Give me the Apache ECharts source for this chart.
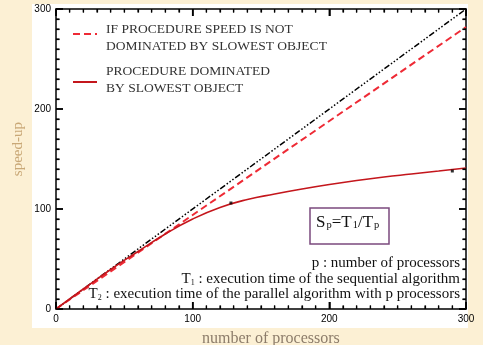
<!DOCTYPE html>
<html lang="en">
<head>
    <meta charset="UTF-8">
    <title>speed-up</title>
    <script src="https://cdn.jsdelivr.net/npm/echarts@6/dist/echarts.min.js"></script>
    <style>
        html, body {
            margin: 0;
            padding: 0;
            background: #fcf0d4;
        }
        .panel {
            position: absolute;
            left: 32px;
            top: 4px;
            width: 436px;
            height: 324px;
            background: #fff;
        }
        #charts {
            position: absolute;
            left: 0;
            top: 0;
            width: 483px;
            height: 345px;
        }
    </style>
</head>
<body>
<div class="panel"></div>
<div id="charts"></div>

<script>
    // data
    var xTicks = [0, 100, 200, 300];
    var yTicks = [0, 100, 200, 300];
    var minorStep = 10;
    var idealP = [0, 300];
    var idealS = [0, 300];
    var notDomP = [0, 300];
    var notDomS = [0, 282];
    var domP = [0, 20, 40, 60, 80, 100, 120, 140, 160, 180, 200, 220, 240, 260, 280, 300];
    var domS = [0, 20, 39.5, 57.5, 75, 90, 101.5, 109.5, 115, 120, 124.5, 128.5, 132, 135, 138, 141];
    var markP = [128, 290];
    var markS = [106, 138];

    function pairs(xs, ys) {
        var out = [];
        for (var i = 0; i < xs.length; i++) {
            out.push([xs[i], ys[i]]);
        }
        return out;
    }

    var serif = '"Liberation Serif", "DejaVu Serif", serif';
    var sans = '"Liberation Sans", Arial, sans-serif';
    var xMin = xTicks[0], xMax = xTicks[xTicks.length - 1];
    var yMin = yTicks[0], yMax = yTicks[yTicks.length - 1];
    var majorX = xTicks[1] - xTicks[0];
    var majorY = yTicks[1] - yTicks[0];

    // tick list for the box: [value, side, isMajor]; side 0 bottom, 1 top, 2 left, 3 right
    var boxTicks = [];
    for (var v = xMin; v <= xMax; v += minorStep) {
        boxTicks.push([v, 0, v % majorX === 0 ? 1 : 0]);
        boxTicks.push([v, 1, v % majorX === 0 ? 1 : 0]);
    }
    for (var w = yMin; w <= yMax; w += minorStep) {
        boxTicks.push([w, 2, w % majorY === 0 ? 1 : 0]);
        boxTicks.push([w, 3, w % majorY === 0 ? 1 : 0]);
    }

    function boxAxis(pos, show, ticks) {
        return {
            type: 'value',
            position: pos,
            min: ticks[0],
            max: ticks[ticks.length - 1],
            interval: ticks[1] - ticks[0],
            axisLine: {show: true, onZero: false, lineStyle: {color: '#000', width: 1.5}},
            axisTick: {show: true, inside: true, length: 7, lineStyle: {color: '#000', width: 1.5}},
            minorTick: {show: true, splitNumber: 10, length: 3.5, lineStyle: {color: '#000', width: 1.2}},
            splitLine: {show: false},
            axisLabel: {show: show, color: '#000', fontFamily: sans, fontSize: 10, margin: 5}
        };
    }

    function renderTick(params, api) {
        var val = api.value(0);
        var side = api.value(1);
        var len = api.value(2) ? 7 : 3.5;
        var p, shape;
        if (side === 0) {
            p = api.coord([val, yMin]);
            shape = {x1: p[0], y1: p[1], x2: p[0], y2: p[1] - len};
        } else if (side === 1) {
            p = api.coord([val, yMax]);
            shape = {x1: p[0], y1: p[1], x2: p[0], y2: p[1] + len};
        } else if (side === 2) {
            p = api.coord([xMin, val]);
            shape = {x1: p[0], y1: p[1], x2: p[0] + len, y2: p[1]};
        } else {
            p = api.coord([xMax, val]);
            shape = {x1: p[0], y1: p[1], x2: p[0] - len, y2: p[1]};
        }
        return {
            type: 'line',
            shape: shape,
            style: {stroke: '#000', lineWidth: api.value(2) ? 1.5 : 1.2}
        };
    }

    function note(y, text) {
        return {
            type: 'text', x: 460, y: y,
            style: {
                text: text,
                align: 'right',
                verticalAlign: 'middle',
                rich: {
                    n: {fontSize: 15, fontFamily: serif, fill: '#111'},
                    s: {fontSize: 8, fontFamily: serif, fill: '#111', padding: [7, 0, 0, 0]}
                }
            }
        };
    }

    var myChart = echarts.init(document.getElementById('charts'));
    var option = {
        backgroundColor: 'transparent',
        animation: false,
        grid: {left: 56, right: 17, top: 9, bottom: 36},
        xAxis: [boxAxis('bottom', true, xTicks), boxAxis('top', false, xTicks)],
        yAxis: [boxAxis('left', true, yTicks), boxAxis('right', false, yTicks)],
        graphic: [
            {type: 'text', left: 11, top: 122, rotation: Math.PI / 2, style: {text: 'speed-up', fill: '#c9a877', font: '15px ' + serif}},
            {type: 'text', left: 202, top: 331, style: {text: 'number of processors', fill: '#8c7c6a', font: '16px ' + serif}},
            // legend
            {type: 'line', shape: {x1: 73, y1: 34, x2: 97, y2: 34}, style: {stroke: '#ee2a35', lineWidth: 2, lineDash: [7, 4]}},
            {type: 'text', left: 106, top: 21, style: {text: 'IF PROCEDURE SPEED IS NOT\nDOMINATED BY SLOWEST OBJECT', fill: '#333', font: '13.5px ' + serif, lineHeight: 17}},
            {type: 'line', shape: {x1: 73, y1: 82, x2: 97, y2: 82}, style: {stroke: '#c4161c', lineWidth: 2}},
            {type: 'text', left: 106, top: 63, style: {text: 'PROCEDURE DOMINATED\nBY SLOWEST OBJECT', fill: '#333', font: '13.5px ' + serif, lineHeight: 17}},
            // formula box
            {type: 'rect', shape: {x: 310, y: 208, width: 79, height: 36}, style: {fill: '#fff', stroke: '#7b4a7e', lineWidth: 1.5}},
            {
                type: 'text', left: 316, top: 214,
                style: {
                    text: '{n|S}{s|p}{n|=T}{s|1}{n|/T}{s|p}',
                    rich: {
                        n: {fontSize: 17, fontFamily: serif, fill: '#111', verticalAlign: 'bottom'},
                        s: {fontSize: 10.5, fontFamily: serif, fill: '#111', padding: [8, 0, 0, 1]}
                    }
                }
            },
            // notes
            note(263, '{n|p : number of processors}'),
            note(279, '{n|T}{s|1}{n| : execution time of the sequential algorithm}'),
            note(294, '{n|T}{s|2}{n| : execution time of the parallel algorithm with p processors}')
        ],
        series: [
            {
                type: 'custom',
                data: boxTicks,
                renderItem: renderTick,
                clip: false,
                silent: true,
                z: 10
            },
            {
                type: 'line',
                data: pairs(idealP, idealS),
                symbol: 'none',
                lineStyle: {color: '#000', width: 1.5, type: [6, 2, 1.5, 2, 1.5, 2, 1.5, 2]},
                z: 3
            },
            {
                type: 'line',
                data: pairs(notDomP, notDomS),
                symbol: 'none',
                lineStyle: {color: '#ee2a35', width: 2, type: [7, 4]},
                z: 4
            },
            {
                type: 'line',
                data: pairs(domP, domS),
                smooth: true,
                symbol: 'none',
                lineStyle: {color: '#c4161c', width: 1.6},
                z: 5
            },
            {
                type: 'scatter',
                data: pairs(markP, markS),
                symbol: 'rect',
                symbolSize: 3,
                itemStyle: {color: '#000'},
                z: 6
            }
        ]
    };

    myChart.setOption(option);
</script>
</body>
</html>
